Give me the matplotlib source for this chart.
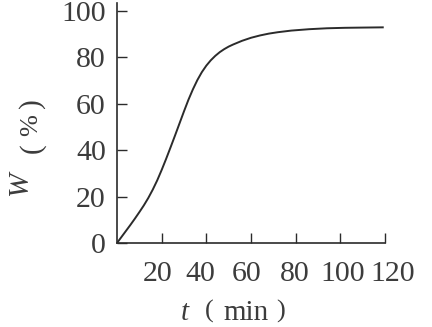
import matplotlib
matplotlib.use("Agg")
import matplotlib.pyplot as plt
from matplotlib.transforms import ScaledTranslation

# data
t_min = [0, 2, 4, 6, 8, 10, 12, 14, 16, 18, 20, 22, 24, 26, 28, 30, 32, 34, 36, 38,
         40, 42, 44, 46, 48, 50, 52, 56, 60, 64, 68, 72, 78, 86, 94, 102, 110, 119]
W_pct = [0, 2.6, 5.2, 7.8, 10.5, 13.3, 16.2, 19.4, 23.0, 27.0, 31.5, 36.3, 41.3, 46.4,
         51.6, 56.8, 61.8, 66.3, 70.3, 73.7, 76.5, 78.8, 80.7, 82.3, 83.6, 84.7, 85.6,
         87.2, 88.5, 89.5, 90.3, 90.9, 91.6, 92.2, 92.6, 92.8, 92.9, 93.0]
x_ticks = [20, 40, 60, 80, 100, 120]
y_ticks = [0, 20, 40, 60, 80, 100]
x_label_shift_px = [-4, -6, -4, -1, 2, 8]

W, H = 432, 327
fig = plt.figure(figsize=(W / 100, H / 100), dpi=100)
ax = fig.add_axes([117 / W, 1 - 243 / H, (385 - 117) / W, (243 - 3) / H])

ink = "#2b2b2b"
txt = "#3c3c3c"
ax.plot(t_min, W_pct, color=ink, lw=1.4)
ax.set_xlim(0, 120)
ax.set_ylim(0, 103.5)
ax.set_xticks(x_ticks)
ax.set_yticks(y_ticks)
for s in ("top", "right"):
    ax.spines[s].set_visible(False)
for s in ("left", "bottom"):
    ax.spines[s].set_color(ink)
    ax.spines[s].set_linewidth(1.2)
ax.tick_params(direction="in", length=7, width=1.0, colors=ink, labelcolor=txt)
ax.tick_params(axis="y", pad=8)
ax.tick_params(axis="x", pad=13)
for lab in ax.get_xticklabels() + ax.get_yticklabels():
    lab.set_family("Liberation Serif")
    lab.set_fontsize(21.5)
for lab, dx in zip(ax.get_xticklabels(), x_label_shift_px):
    lab.set_transform(lab.get_transform() + ScaledTranslation(dx / 100, 0, fig.dpi_scale_trans))

serif = "Liberation Serif"
def fx(px):
    return px / W
def fy(py):
    return 1 - py / H

# x axis label: t (min)
fig.text(fx(185), fy(320), "t", style="italic", family=serif, fontsize=21,
         color=txt, ha="center", va="baseline")
fig.text(fx(209), fy(311), "(", family=serif, fontsize=19, color=txt,
         ha="center", va="center")
fig.text(fx(246), fy(320), "min", family=serif, fontsize=21, color=txt,
         ha="center", va="baseline")
fig.text(fx(281), fy(311), ")", family=serif, fontsize=19, color=txt,
         ha="center", va="center")

# y axis label: W (%)
fig.text(fx(20), fy(184), "W", style="italic", family=serif, fontsize=21,
         color=txt, ha="center", va="center", rotation=90)
fig.text(fx(32), fy(148), "(", family=serif, fontsize=21, color=txt,
         ha="center", va="center", rotation=90)
fig.text(fx(31), fy(125), "%", family=serif, fontsize=19, color=txt,
         ha="center", va="center", rotation=90)
fig.text(fx(32), fy(103), ")", family=serif, fontsize=21, color=txt,
         ha="center", va="center", rotation=90)

fig.savefig("out.png", dpi=100)
